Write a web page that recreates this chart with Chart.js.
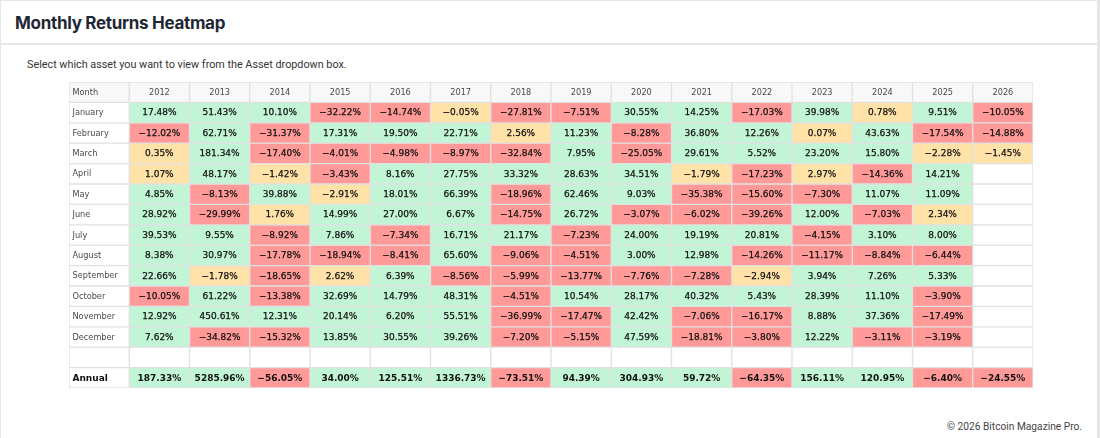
<!DOCTYPE html>
<html>
<head>
<meta charset="utf-8">
<script src="https://cdn.jsdelivr.net/npm/chart.js@4"></script>
<style>
  html, body { margin: 0; padding: 0; background: #fff; }
  body { width: 1100px; height: 438px; position: relative; overflow: hidden; font-family: Roboto, "Noto Sans", sans-serif; }
  .card { position: absolute; left: 0; top: 0; width: 1096px; height: 450px; border: 1px solid #e6e6e6; border-right-width: 3px; box-sizing: content-box; }
  .head { height: 42px; border-bottom: 2px solid #e8e8e8; }
  .head h1 { margin: 0; padding: 12px 0 0 14px; font-family: Inter, sans-serif; font-size: 17px; letter-spacing: -0.3px; font-weight: 700; color: #1f2733; }
  .sub { position: absolute; left: 27px; top: 58px; font-size: 10.8px; color: #333; }
  .foot { position: absolute; right: 18px; top: 421px; font-size: 10.2px; color: #444; }
  #wrap { position: absolute; left: 69px; top: 82px; width: 964px; height: 306px; }
</style>
</head>
<body>
<div class="card"><div class="head"><h1>Monthly Returns Heatmap</h1></div></div>
<div class="sub">Select which asset you want to view from the Asset dropdown box.</div>
<div id="wrap"><canvas id="chart"></canvas></div>
<div class="foot">© 2026 Bitcoin Magazine Pro.</div>
<script>
const years = ['2012','2013','2014','2015','2016','2017','2018','2019','2020','2021','2022','2023','2024','2025','2026'];
const months = ['January','February','March','April','May','June','July','August','September','October','November','December'];

const jan = [17.48, 51.43, 10.10, -32.22, -14.74, -0.05, -27.81, -7.51, 30.55, 14.25, -17.03, 39.98, 0.78, 9.51, -10.05];
const feb = [-12.02, 62.71, -31.37, 17.31, 19.50, 22.71, 2.56, 11.23, -8.28, 36.80, 12.26, 0.07, 43.63, -17.54, -14.88];
const mar = [0.35, 181.34, -17.40, -4.01, -4.98, -8.97, -32.84, 7.95, -25.05, 29.61, 5.52, 23.20, 15.80, -2.28, -1.45];
const apr = [1.07, 48.17, -1.42, -3.43, 8.16, 27.75, 33.32, 28.63, 34.51, -1.79, -17.23, 2.97, -14.36, 14.21, null];
const may = [4.85, -8.13, 39.88, -2.91, 18.01, 66.39, -18.96, 62.46, 9.03, -35.38, -15.60, -7.30, 11.07, 11.09, null];
const jun = [28.92, -29.99, 1.76, 14.99, 27.00, 6.67, -14.75, 26.72, -3.07, -6.02, -39.26, 12.00, -7.03, 2.34, null];
const jul = [39.53, 9.55, -8.92, 7.86, -7.34, 16.71, 21.17, -7.23, 24.00, 19.19, 20.81, -4.15, 3.10, 8.00, null];
const aug = [8.38, 30.97, -17.78, -18.94, -8.41, 65.60, -9.06, -4.51, 3.00, 12.98, -14.26, -11.17, -8.84, -6.44, null];
const sep = [22.66, -1.78, -18.65, 2.62, 6.39, -8.56, -5.99, -13.77, -7.76, -7.28, -2.94, 3.94, 7.26, 5.33, null];
const oct = [-10.05, 61.22, -13.38, 32.69, 14.79, 48.31, -4.51, 10.54, 28.17, 40.32, 5.43, 28.39, 11.10, -3.90, null];
const nov = [12.92, 450.61, 12.31, 20.14, 6.20, 55.51, -36.99, -17.47, 42.42, -7.06, -16.17, 8.88, 37.36, -17.49, null];
const dec = [7.62, -34.82, -15.32, 13.85, 30.55, 39.26, -7.20, -5.15, 47.59, -18.81, -3.80, 12.22, -3.11, -3.19, null];
const annual = [187.33, 5285.96, -56.05, 34.00, 125.51, 1336.73, -73.51, 94.39, 304.93, 59.72, -64.35, 156.11, 120.95, -6.40, -24.55];

const monthRows = [jan, feb, mar, apr, may, jun, jul, aug, sep, oct, nov, dec];

// rows of the table, top to bottom
const rows = [{ kind: 'head', label: 'Month', values: years }];
months.forEach((m, i) => rows.push({ kind: 'month', label: m, values: monthRows[i] }));
rows.push({ kind: 'blank', label: '', values: years.map(() => null) });
rows.push({ kind: 'annual', label: 'Annual', values: annual });

const GREEN = '#c2f4d6', RED = '#ff9a98', YELLOW = '#ffe2a8', GRID = '#e1e1e1';

function cellColor(row, col) {
  if (row.kind === 'head') return '#f8f8f8';
  if (col === 0) return '#ffffff';
  const v = row.values[col - 1];
  if (v === null || v === undefined) return '#ffffff';
  if (v >= 3) return GREEN;
  if (v <= -3) return RED;
  return YELLOW;
}

function fmt(v) {
  const s = Math.abs(v).toFixed(2) + '%';
  return v < 0 ? '\u2212' + s : s;
}

const cells = ['Month', ...years];

const gridBg = {
  id: 'gridBg',
  beforeDatasetsDraw(chart) {
    const { ctx, chartArea: a } = chart;
    ctx.save();
    ctx.fillStyle = GRID;
    ctx.fillRect(a.left, a.top, a.right - a.left, a.bottom - a.top);
    ctx.restore();
  }
};

const cellText = {
  id: 'cellText',
  afterDatasetsDraw(chart) {
    const ctx = chart.ctx;
    ctx.save();
    ctx.textBaseline = 'middle';
    rows.forEach((row, r) => {
      const meta = chart.getDatasetMeta(r);
      meta.data.forEach((bar, c) => {
        const p = bar.getProps(['x', 'y', 'base', 'width'], true);
        const cy = (p.y + p.base) / 2 + 0.5;
        let txt = '';
        if (c === 0) {
          txt = row.label;
        } else if (row.kind === 'head') {
          txt = row.values[c - 1];
        } else {
          const v = row.values[c - 1];
          if (v !== null && v !== undefined) txt = fmt(v);
        }
        if (!txt) return;
        const bold = row.kind === 'annual';
        const label = c === 0 || row.kind === 'head';
        ctx.font = (bold ? 'bold ' : '') + (label && !bold ? '8.2px' : '9px') + ' "DejaVu Sans", sans-serif';
        if (label) ctx.fillStyle = bold ? '#111' : '#4a4a4a';
        else ctx.fillStyle = '#111';
        if (c === 0) {
          ctx.textAlign = 'left';
          ctx.fillText(txt, p.x - p.width / 2 + 3.5, cy);
        } else {
          ctx.textAlign = 'center';
          ctx.fillText(txt, p.x, cy);
          if (!bold && !label) {
            ctx.lineWidth = 0.25;
            ctx.strokeStyle = '#111';
            ctx.strokeText(txt, p.x, cy);
          }
        }
      });
    });
    ctx.restore();
  }
};

new Chart(document.getElementById('chart'), {
  type: 'bar',
  data: {
    labels: cells,
    datasets: rows.map((row, r) => ({
      label: row.label || 'blank',
      data: cells.map(() => 1),
      backgroundColor: ctx => cellColor(row, ctx.dataIndex),
      borderColor: GRID,
      borderWidth: 1,
      borderSkipped: false,
      categoryPercentage: 1,
      barPercentage: 1
    }))
  },
  options: {
    responsive: true,
    maintainAspectRatio: false,
    animation: false,
    layout: { padding: 0 },
    plugins: { legend: { display: false }, tooltip: { enabled: false } },
    scales: {
      x: { stacked: true, display: false, grid: { display: false } },
      y: { stacked: true, display: false, reverse: true, min: 0, max: rows.length, grid: { display: false } }
    }
  },
  plugins: [gridBg, cellText]
});
</script>
</body>
</html>
